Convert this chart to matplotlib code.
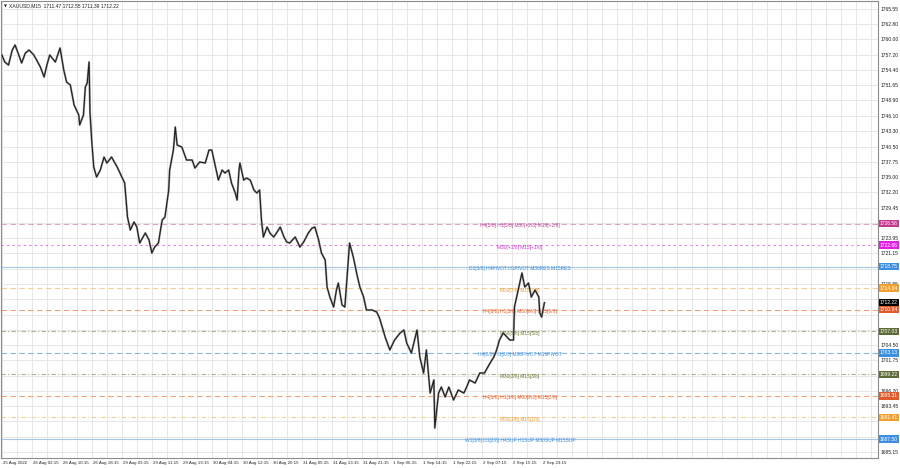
import numpy as np
import matplotlib
matplotlib.use('Agg')
import matplotlib.pyplot as plt
from matplotlib.transforms import blended_transform_factory

plt.rcParams['font.family'] = ['Liberation Sans', 'DejaVu Sans']

# price trace (bar index, price)
bars = [0, 3, 7, 11, 14, 18, 21, 25, 29, 34, 37, 41, 45, 48, 51, 57, 62, 66, 69, 73,
        77, 82, 83, 87, 89, 91, 93, 94, 96, 98, 101, 105, 109, 112, 117, 123, 128, 131, 134, 137,
        141, 144, 147, 153, 157, 160, 163, 167, 171, 174, 178, 179, 183, 185, 187, 192, 197, 203, 206, 211,
        217, 221, 224, 227, 231, 235, 238, 242, 245, 249, 251, 253, 254, 258, 261, 265, 269, 272, 275, 277,
        279, 283, 286, 290, 293, 297, 301, 304, 307, 313, 318, 322, 327, 331, 334, 338, 341, 345, 347, 350,
        354, 357, 359, 363, 366, 370, 371, 375, 379, 382, 386, 389, 395, 400, 403, 409, 414, 419, 425, 429,
        432, 437, 443, 446, 450, 453, 457, 461, 462, 466, 469, 473, 477, 482, 487, 493, 496, 499, 505, 510,
        515, 521, 525, 528, 531, 535, 539, 542, 546, 547, 551, 555, 558, 562, 565, 569, 573, 574, 576, 579]
prices = [1757.12, 1755.85, 1755.30, 1758.02, 1758.93, 1757.12, 1755.67, 1757.48, 1758.02, 1757.12,
          1756.21, 1754.94, 1753.13, 1755.30, 1757.12, 1755.85, 1758.39, 1754.40, 1752.22, 1751.68,
          1748.05, 1746.24, 1744.43, 1746.24, 1751.31, 1752.04, 1755.85, 1746.60, 1741.16, 1736.81,
          1735.00, 1736.27, 1738.62, 1737.54, 1738.62, 1736.81, 1735.00, 1733.91, 1727.75, 1725.39,
          1726.84, 1725.93, 1723.03, 1724.85, 1723.58, 1721.22, 1722.31, 1723.03, 1727.20, 1727.75,
          1732.64, 1736.27, 1739.89, 1744.06, 1740.80, 1740.44, 1738.08, 1738.08, 1736.63, 1737.72,
          1737.54, 1739.89, 1739.89, 1737.54, 1734.45, 1736.27, 1735.72, 1736.27, 1733.91, 1732.10,
          1730.83, 1736.27, 1737.54, 1734.45, 1734.82, 1734.45, 1732.64, 1732.10, 1732.64, 1727.20,
          1724.12, 1725.93, 1724.85, 1724.12, 1724.85, 1725.93, 1724.12, 1723.21, 1723.03, 1724.12,
          1722.31, 1723.21, 1724.85, 1725.75, 1725.93, 1723.58, 1721.22, 1719.95, 1715.06, 1713.24,
          1711.43, 1714.51, 1715.78, 1711.79, 1711.43, 1720.50, 1723.03, 1720.50, 1717.23, 1715.06,
          1713.24, 1710.89, 1710.89, 1710.52, 1709.44, 1705.99, 1703.64, 1705.45, 1706.72, 1707.26,
          1704.90, 1703.09, 1707.26, 1702.37, 1699.47, 1703.64, 1695.84, 1698.20, 1689.50, 1695.84,
          1696.93, 1695.12, 1696.93, 1694.57, 1696.38, 1695.84, 1696.93, 1698.20, 1697.65, 1699.47,
          1699.47, 1701.28, 1702.37, 1703.64, 1705.45, 1706.72, 1705.99, 1705.45, 1705.45, 1711.43,
          1714.51, 1717.60, 1715.06, 1715.78, 1713.24, 1714.51, 1713.24, 1710.34, 1709.62, 1712.22]

# Murrey-style levels
levels = [1726.56, 1722.66, 1718.75, 1714.84, 1710.94, 1707.03, 1703.13, 1699.22, 1695.31, 1691.41, 1687.50]
level_names = ["H4[5/8] H1[5/8] M30[+2/8] M15[+2/8]",
               "M30[+1/8] M15[+1/8]",
               "D1[3/8] H4PIVOT H1PIVOT M30RES M15RES",
               "M30[7/8] M15[7/8]",
               "H4[3/8] H1[3/8] M30[6/8] M15[6/8]",
               "M30[5/8] M15[5/8]",
               "H4[2/8] H1[2/8] M30PIVOT M15PIVOT",
               "M30[3/8] M15[3/8]",
               "H4[1/8] H1[1/8] M30[2/8] M15[2/8]",
               "M30[1/8] M15[1/8]",
               "W1[3/8] D1[2/8] H4SUP H1SUP M30SUP M15SUP"]
level_lines = ['#dba6c6', '#e47ae4', '#a6c8e8', '#f3cf96', '#eea47c', '#aab48e',
               '#8ab6e2', '#aab48e', '#eea47c', '#f3cf96', '#a6c8e8']
level_text = ['#c0479a', '#d030d0', '#3d8fd8', '#e89a2e', '#e0602a', '#6b7a35',
              '#3d8fd8', '#6b7a35', '#e0602a', '#e89a2e', '#3d8fd8']
level_box = ['#c43a8e', '#e020e0', '#3d8fe0', '#f0a030', '#e05a2a', '#5c6b38',
             '#3d8fe0', '#5c6b38', '#e05a2a', '#f0a030', '#3d8fe0']
level_ls = [(0, (5, 3)), (0, (2, 3)), '-', (0, (5, 3)), (0, (5, 3)), (0, (4, 2, 1, 2)),
            (0, (5, 3)), (0, (4, 2, 1, 2)), (0, (5, 3)), (0, (4, 2, 1, 2)), '-']

last_price = 1712.22
title = "XAUUSD,M15  1711.47 1712.55 1711.39 1712.22"

# scale labels; the ones hidden under the price boxes are left blank
y_ticks = [1765.55, 1762.80, 1760.00, 1757.20, 1754.40, 1751.65, 1748.90, 1746.10, 1743.30, 1740.50,
           1737.75, 1735.00, 1732.20, 1729.45, 1726.65, 1723.95, 1721.15, 1718.35, 1715.55, 1712.80,
           1710.00, 1707.25, 1704.50, 1701.75, 1698.95, 1696.20, 1693.45, 1690.70, 1687.95, 1685.15]
y_labels = ["1765.55", "1762.80", "1760.00", "1757.20", "1754.40", "1751.65", "1748.90", "1746.10",
            "1743.30", "1740.50", "1737.75", "1735.00", "1732.20", "1729.45", "", "1723.95", "1721.15",
            "", "1715.55", "", "", "", "1704.50", "1701.75", "", "1696.20", "1693.45", "", "1687.95",
            "1685.15"]
x_labels = ["25 Aug 2022", "26 Aug 02:15", "26 Aug 10:15", "26 Aug 18:15", "29 Aug 03:15",
            "29 Aug 11:15", "29 Aug 19:15", "30 Aug 04:15", "30 Aug 12:15", "30 Aug 20:15",
            "31 Aug 05:15", "31 Aug 13:15", "31 Aug 21:15", "1 Sep 06:15", "1 Sep 14:15",
            "1 Sep 22:15", "2 Sep 07:15", "2 Sep 15:15", "2 Sep 23:15"]
bars_per_label = 32

fig = plt.figure(figsize=(9, 4.68), dpi=100)
ax = fig.add_axes([1/900, 10/468, 877/900, 457/468])
ax.set_xlim(-1, 935)
ax.set_ylim(1684.06, 1766.91)

# grid
for i in range(0, 935, bars_per_label // 2):
    ax.axvline(i, color='#e3e3e3', lw=0.6, zorder=0)
for t in y_ticks:
    ax.axhline(t, color='#e3e3e3', lw=0.6, zorder=0)

# levels
for lv, name, lc, tc, ls in zip(levels, level_names, level_lines, level_text, level_ls):
    ax.axhline(lv, color=lc, lw=0.8, ls=ls, zorder=1)
    ax.text(553, lv + 0.1, name, color=tc, fontsize=3.5, ha='center', va='top', zorder=2)

# price
ax.plot(bars, prices, color='#a0a0a0', lw=1.5, zorder=3)
ax.plot(bars, prices, color='#1e1e1e', lw=0.8, zorder=4)

# axes look
for s in ax.spines.values():
    s.set_color('#8c8c8c')
    s.set_linewidth(0.8)
ax.set_xticks([])
ax.yaxis.tick_right()
ax.set_yticks(y_ticks)
ax.set_yticklabels(y_labels)
ax.tick_params(axis='y', length=0, pad=2, labelsize=3.6, labelcolor='#222222')

trans = blended_transform_factory(ax.transAxes, ax.transData)
for i, lab in enumerate(x_labels):
    ax.text(i * bars_per_label + 1, 1684.06 - 0.9, lab, fontsize=3.2, ha='left', va='center', color='#222222',
            clip_on=False)

# price boxes on the right scale
for lv, bc in zip(levels, level_box):
    ax.text(1.002, lv, f"{lv:.2f}", transform=trans, fontsize=3.6, color='white', ha='left', va='center',
            clip_on=False, zorder=10,
            bbox=dict(boxstyle='square,pad=0.25', fc=bc, ec='none'))
ax.text(1.002, last_price, f"{last_price:.2f}", transform=trans, fontsize=3.6, color='white', ha='left',
        va='center', clip_on=False, zorder=10, bbox=dict(boxstyle='square,pad=0.25', fc='black', ec='none'))

ax.text(0.003, 0.993, "\u25bc", transform=ax.transAxes, fontsize=2.8, ha='left', va='top',
        family=['DejaVu Sans'], color='#222222')
ax.text(0.009, 0.995, title, transform=ax.transAxes, fontsize=3.6, ha='left', va='top', color='#222222')

fig.savefig('out.png', dpi=100, facecolor='white')
